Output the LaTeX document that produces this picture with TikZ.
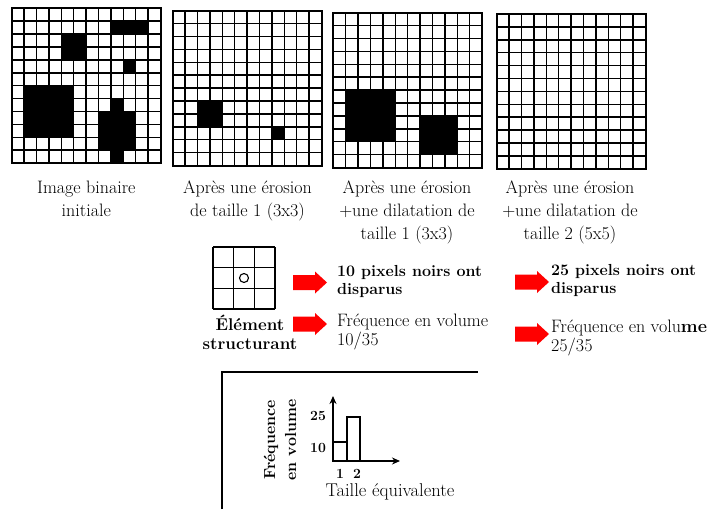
\documentclass[tikz,border=0pt]{standalone}
\usepackage{fontspec}
\usetikzlibrary{arrows.meta}
\def\gcw{12.4}
\def\gch{12.9}
\newcommand\gridlines{%
  \foreach \i in {1,...,11}{%
    \draw[gridline] (\i*\gcw,0) -- ++(0,12*\gch);
    \draw[gridline] (0,\i*\gch) -- ++(12*\gcw,0);
  }%
  \draw[gridborder] (0,0) rectangle ++(12*\gcw,12*\gch);
}
\newcommand\blackcell[2]{\fill (#1*\gcw,#2*\gch) rectangle ++(\gcw,\gch);}
\newcommand\redarrow[2]{%
  \fill[arrowfill] (#1,{#2-7.5}) -- ({#1+22},{#2-7.5}) -- ({#1+22},{#2-11}) -- ({#1+34},#2)
    -- ({#1+22},{#2+11}) -- ({#1+22},{#2+7.5}) -- (#1,{#2+7.5}) -- cycle;}
\newcommand\medw{\addfontfeatures{FakeBold=0.6}}
\begin{document}
\begin{tikzpicture}[x=1pt,y=-1pt,
  gridline/.style={line width=1.5pt},
  gridborder/.style={line width=2pt},
  arrowfill/.style={fill=red},
  lbl/.style={inner sep=0pt, align=center, anchor=north, font=\fontsize{18}{23}\selectfont\medw},
  bodytxt/.style={inner sep=0pt, align=left, anchor=north west, font=\fontsize{18}{18.5}\selectfont\medw},
  boldtxt/.style={inner sep=0pt, align=left, anchor=north west, font=\bfseries\fontsize{16}{18.5}\selectfont},
  axis/.style={line width=1.4pt, -{Stealth[length=8pt,width=7pt]}},
  bar/.style={line width=1.1pt},
  small/.style={inner sep=0pt, font=\bfseries\fontsize{14}{14}\selectfont},
]
\useasboundingbox (0,0) rectangle (723,509);

% grid 1: initial image
\begin{scope}[shift={(11.7,8.3)}]
  \foreach \c/\r in {8/1,9/1,10/1,9/4,8/7,8/11} {\blackcell{\c}{\r}}
  \foreach \c in {4,5} {\foreach \r in {2,3} {\blackcell{\c}{\r}}}
  \foreach \c in {1,...,4} {\foreach \r in {6,...,9} {\blackcell{\c}{\r}}}
  \foreach \c in {7,8,9} {\foreach \r in {8,9,10} {\blackcell{\c}{\r}}}
  \gridlines
\end{scope}
% grid 2: after erosion
\begin{scope}[shift={(172.7,10.7)}]
  \foreach \c in {2,3} {\foreach \r in {7,8} {\blackcell{\c}{\r}}}
  \blackcell{8}{9}
  \gridlines
\end{scope}
% grid 3: erosion + dilation 1
\begin{scope}[shift={(333.3,12.7)}]
  \foreach \c in {1,...,4} {\foreach \r in {6,...,9} {\blackcell{\c}{\r}}}
  \foreach \c in {7,8,9} {\foreach \r in {8,9,10} {\blackcell{\c}{\r}}}
  \gridlines
\end{scope}
% grid 4: erosion + dilation 2
\begin{scope}[shift={(496.7,14)}]
  \gridlines
\end{scope}

% labels under grids
\node[lbl] (l1) at (86.3,181) {Image binaire\\initiale};
\node[lbl] (l2) at (247.5,181) {Après une érosion\\de taille 1 (3x3)};
\node[lbl] (l3) at (407,181) {Après une érosion\\+une dilatation de\\taille 1 (3x3)};
\node[lbl] (l4) at (570,181) {Après une érosion\\+une dilatation de\\taille 2 (5x5)};

% structuring element
\begin{scope}[shift={(213,247)}]
  \foreach \i in {0,...,3}{%
    \draw[line width=1.4pt] (\i*20.67,0) -- (\i*20.67,62);
    \draw[line width=1.4pt] (0,\i*20.67) -- (62,\i*20.67);
  }
  \draw[line width=1.1pt] (31,31) circle (4.5);
\end{scope}
\node[inner sep=0pt, align=center, anchor=north, font=\bfseries\fontsize{17}{19}\selectfont] (se) at (250,315) {Élément\\structurant};

% red arrows
\redarrow{293}{282.5}
\redarrow{293}{324}
\redarrow{515}{282}
\redarrow{515}{334}

% texts
\node[boldtxt] (t1) at (337,265) {10 pixels noirs ont\\disparus};
\node[bodytxt] (t2) at (337,314) {Fréquence en volume\\10/35};
\node[boldtxt] (t3) at (551,264) {25 pixels noirs ont\\disparus};
\node[bodytxt] (t4) at (551,320) {Fréquence en volu{\bfseries me}\\25/35};

% histogram box
\draw[line width=1.3pt] (222,509) -- (222,372) -- (478,372);
\coordinate (o) at (333,461);
\coordinate (ytip) at (333,396);
\coordinate (xtip) at (400,461);
\draw[bar] (333,461) rectangle (347,442);
\draw[bar] (347,461) rectangle (360,417);
\draw[axis] (o) -- (ytip);
\draw[axis] (o) -- (xtip);
\node[small] (n25) at (318,416) {25};
\node[small] (n10) at (318,448) {10};
\node[small] (n1) at (340,474) {1};
\node[small] (n2) at (357,474) {2};
\node[inner sep=0pt, font=\fontsize{18.5}{20}\selectfont\medw] (tx) at (390,492) {Taille équivalente};
\node[rotate=90, inner sep=0pt, align=center, font=\bfseries\fontsize{16}{21}\selectfont] (ty) at (280,440) {Fréquence\\en volume};
\end{tikzpicture}
\end{document}
